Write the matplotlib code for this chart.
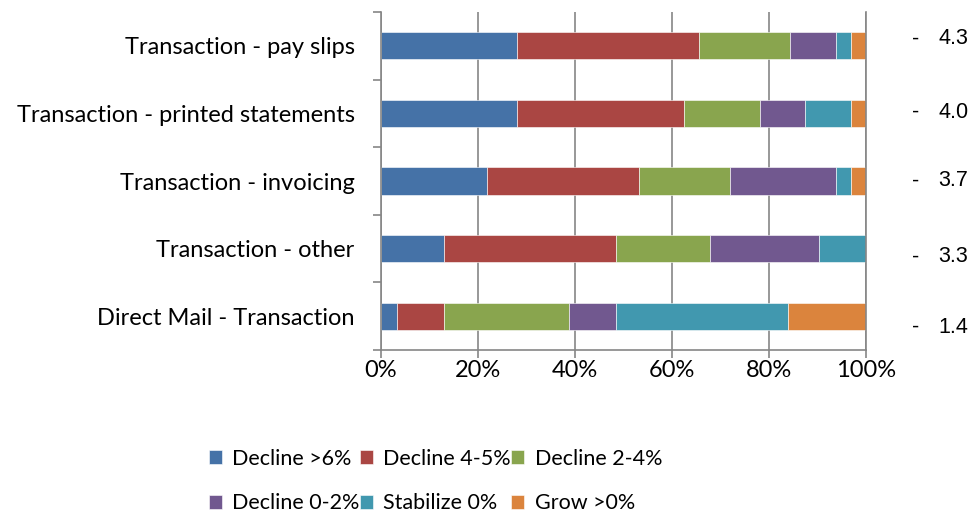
import matplotlib.pyplot as plt
import numpy as np
from matplotlib.transforms import blended_transform_factory

# categories, top to bottom
categories = ["Transaction - pay slips", "Transaction - printed statements",
              "Transaction - invoicing", "Transaction - other",
              "Direct Mail - Transaction"]
series = ["Decline >6%", "Decline 4-5%", "Decline 2-4%",
          "Decline 0-2%", "Stabilize 0%", "Grow >0%"]
colors = ["#4572A7", "#AA4643", "#89A54E", "#71588F", "#4198AF", "#DB843D"]

# shares (%) per category
decline_6 = [28.1, 28.1, 21.9, 12.9, 3.2]
decline_45 = [37.5, 34.4, 31.3, 35.5, 9.7]
decline_24 = [18.8, 15.6, 18.8, 19.4, 25.8]
decline_02 = [9.4, 9.4, 21.9, 22.6, 9.7]
stabilize = [3.1, 9.4, 3.1, 9.7, 35.5]
grow = [3.1, 3.1, 3.1, 0.0, 16.1]
values = [decline_6, decline_45, decline_24, decline_02, stabilize, grow]

# weighted score shown at right
scores = ["4.3", "4.0", "3.7", "3.3", "1.4"]
score_dy = [5, 1, 0, -6, -8]   # vertical nudge of the labels, points

plt.rcParams["font.family"] = ["Lato", "DejaVu Sans"]
fig = plt.figure(figsize=(9.71, 5.16), dpi=100)
ax = fig.add_axes([381 / 971, 1 - 350 / 516, 485 / 971, 338 / 516])

y = np.arange(len(categories))[::-1]
left = np.zeros(len(categories))
handles = []
for name, vals, c in zip(series, values, colors):
    vals = np.array(vals)
    b = ax.barh(y, vals, left=left, height=0.4, color=c, edgecolor="white",
                linewidth=0.4, label=name)
    handles.append(b)
    left += vals

ax.set_xlim(0, 100)
ax.set_ylim(-0.5, len(categories) - 0.5)
ax.set_xticks(np.arange(0, 101, 20))
ax.set_xticklabels([f"{t}%" for t in range(0, 101, 20)], fontsize=17)
ax.set_yticks(np.arange(len(categories) + 1) - 0.5)
ax.set_yticklabels([])
ax.set_yticks(y, categories, minor=True)
ax.tick_params(axis="y", which="minor", length=0, pad=19, labelsize=17)
ax.tick_params(axis="y", which="major", length=6, width=1.2, color="#868686")
ax.tick_params(axis="x", length=6, width=1.2, color="#868686", pad=1)
ax.grid(axis="x", color="#868686", linewidth=1.2)
ax.set_axisbelow(True)
ax.spines["top"].set_visible(False)
for s in ["left", "bottom", "right"]:
    ax.spines[s].set_color("#868686")
    ax.spines[s].set_linewidth(1.2)

trans = blended_transform_factory(ax.transAxes, ax.transData)
for yi, s, dy in zip(y, scores, score_dy):
    ax.annotate("-", xy=(1, yi), xycoords=trans, xytext=(33, dy),
                textcoords="offset points", va="center", ha="left",
                fontsize=15.5, family="Liberation Sans")
    ax.annotate(s, xy=(1, yi), xycoords=trans, xytext=(52, dy),
                textcoords="offset points", va="center", ha="left",
                fontsize=15.5, family="Liberation Sans")

order = [0, 3, 1, 4, 2, 5]
fig.legend([handles[i] for i in order], [series[i] for i in order],
           ncol=3, loc="upper left", bbox_to_anchor=(200 / 971, 1 - 440 / 516),
           frameon=False, fontsize=15.5, handlelength=0.6, handleheight=0.6,
           handletextpad=0.5, columnspacing=0.0, labelspacing=1.15,
           borderaxespad=0)

fig.savefig("out.png", dpi=100)
